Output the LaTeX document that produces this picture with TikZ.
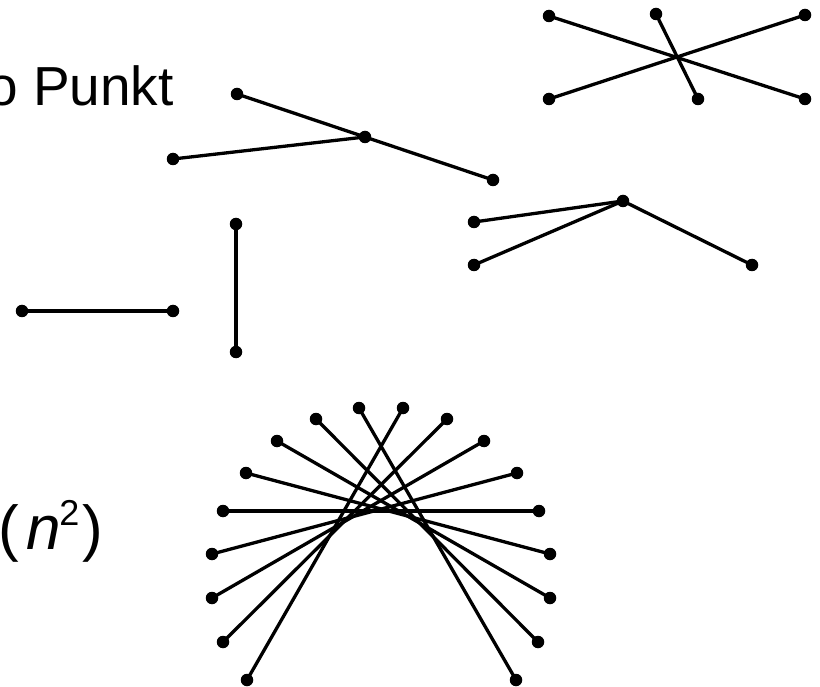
\documentclass[tikz,border=0pt]{standalone}
\usepackage{fontspec}
\setmainfont{Liberation Sans}
\begin{document}
\begin{tikzpicture}[x=1pt,y=-1pt,
  dot/.style={circle,fill=black,inner sep=0pt,minimum size=12.5pt},
  seg/.style={line width=3.3pt},
  txt/.style={inner sep=0pt,anchor=base west}]
\useasboundingbox (0,0) rectangle (820,687);
% texts
\node[txt,font=\fontsize{55}{60}\selectfont] (t1) at (-13,106) {o Punkt};
\node[txt,font=\fontsize{62}{70}\selectfont] (t2) at (-2,549)
  {(\kern8pt\textit{n}\kern-2pt\raisebox{24pt}{\fontsize{36}{40}\selectfont 2}\kern3pt)};
% top-right cross
\node[dot] (x1) at (549,16) {};
\node[dot] (x2) at (656,14) {};
\node[dot] (x3) at (805,15) {};
\node[dot] (x4) at (549,99) {};
\node[dot] (x5) at (698,99) {};
\node[dot] (x6) at (805,99) {};
\draw[seg] (x1.center) -- (x6.center);
\draw[seg] (x4.center) -- (x3.center);
\draw[seg] (x2.center) -- (x5.center);
% middle group
\node[dot] (a1) at (237,94) {};
\node[dot] (a2) at (365,137) {};
\node[dot] (a3) at (173,159) {};
\node[dot] (a4) at (493,180) {};
\draw[seg] (a1.center) -- (a2.center) -- (a4.center);
\draw[seg] (a3.center) -- (a2.center);
% right group
\node[dot] (b1) at (623,201) {};
\node[dot] (b2) at (474,222) {};
\node[dot] (b3) at (474,265) {};
\node[dot] (b4) at (752,265) {};
\draw[seg] (b2.center) -- (b1.center) -- (b4.center);
\draw[seg] (b3.center) -- (b1.center);
% horizontal and vertical segments
\node[dot] (h1) at (22,311) {};
\node[dot] (h2) at (173,311) {};
\draw[seg] (h1.center) -- (h2.center);
\node[dot] (v1) at (236,224) {};
\node[dot] (v2) at (236,352) {};
\draw[seg] (v1.center) -- (v2.center);
% fan
\foreach \n/\xa/\ya/\xb/\yb in {
  f1/359/408/516/680,
  f2/403/408/247/680,
  f3/316/419/538/642,
  f4/447/419/223/642,
  f5/277/441/550/598,
  f6/484/441/212/598,
  f7/246/473/550/554,
  f8/517/473/212/554,
  f9/223/511/539/511}{
  \node[dot] (\n a) at (\xa,\ya) {};
  \node[dot] (\n b) at (\xb,\yb) {};
  \draw[seg] (\n a.center) -- (\n b.center);
}
\end{tikzpicture}
\end{document}
